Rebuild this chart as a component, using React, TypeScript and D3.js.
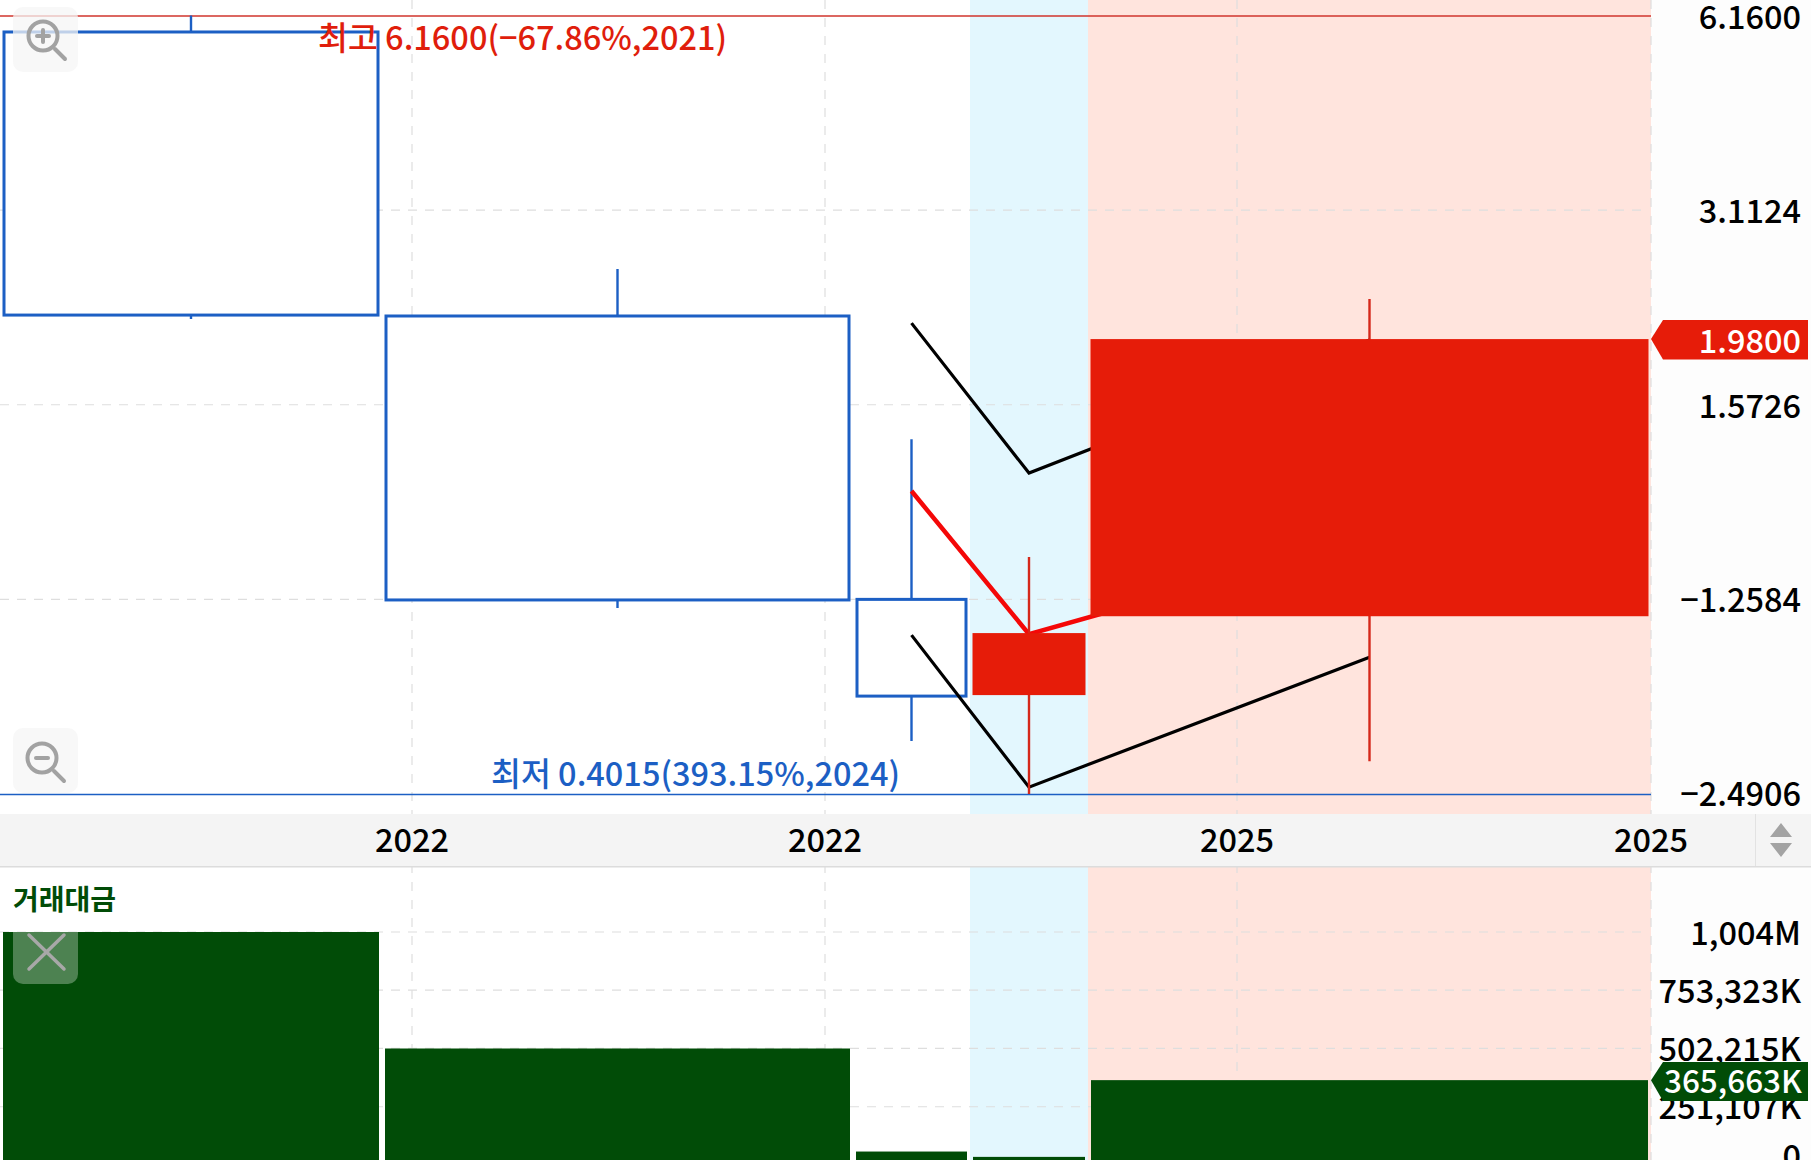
import React from "react";
import * as d3 from "d3";

const spans = [382, 471, 117, 118, 563];
const opens = [5.814, 2.147, 0.7946, 0.568, 0.749];
const closes = [2.154, 0.793, 0.566, 0.706, 1.98];
const highs = [6.16, 2.532, 1.394, 0.922, 2.279];
const lows = [2.124, 0.771, 0.4835, 0.4015, 0.4505];
const volumes = [1004000, 502000, 58000, 35000, 365663];
const maBlackUpper = [2.094, 1.2375, 1.973];
const maRed = [1.162, 0.7033, 0.985];
const maBlackLower = [0.701, 0.4113, 0.6487];
const priceTicks = [6.16, 3.1124, 1.5726, 0.7946, 0.4015];
const priceLabels = ["6.1600", "3.1124", "1.5726", "\u22121.2584", "\u22122.4906"];
const volumeTicks = [1004000, 753323, 502215, 251107, 0];
const volumeLabels = ["1,004M", "753,323K", "502,215K", "251,107K", "0"];
const yearTicks = [412, 825, 1237, 1651];
const yearLabels = ["2022", "2022", "2025", "2025"];

const FONT = '"Noto Sans CJK KR", "Noto Sans", sans-serif';
const BLUE = "#1c5fc4";
const RED = "#e61c09";
const GREEN = "#014c07";
const GRID = "#dedede";

const W = 1811, H = 1160, PLOT_R = 1651;
const total = d3.sum(spans);
const x = d3.scaleLinear().domain([0, total]).range([0, PLOT_R]);
const y = d3.scaleLog().domain([0.4015, 6.16]).range([794, 15.5]);
const v = d3.scaleLinear().domain([0, 1004000]).range([1165, 932]);
const edges = [0, ...d3.cumsum(spans)];
const bands = spans.map((_, i) => ({ l: x(edges[i]), r: x(edges[i + 1]), c: x(edges[i] + spans[i] / 2) }));
const line = d3.line<[number, number]>().x((d) => d[0]).y((d) => d[1]);
const maPath = (vals: number[]) => line(vals.map((d, i) => [bands[i + 2].c, y(d)]))!;
const PAD = 4;
const PAD_UP = 2.5;

function Candle({ i }: { i: number }) {
  const b = bands[i];
  const up = closes[i] >= opens[i];
  const col = up ? RED : BLUE;
  const top = y(Math.max(opens[i], closes[i]));
  const bot = y(Math.min(opens[i], closes[i]));
  return (
    <g>
      <line x1={b.c} x2={b.c} y1={y(highs[i])} y2={y(lows[i])} stroke={up ? "#d5281a" : BLUE} strokeWidth={2.4} />
      {up ? (
        <rect x={b.l + PAD_UP} y={top} width={b.r - b.l - 2 * PAD_UP} height={bot - top} fill={col} />
      ) : (
        <rect x={b.l + PAD} y={top} width={b.r - b.l - 2 * PAD} height={bot - top} fill="#fff" stroke={col} strokeWidth={3} />
      )}
    </g>
  );
}

function Lens({ cx, cy, plus }: { cx: number; cy: number; plus: boolean }) {
  return (
    <g stroke="#a2a2a2" fill="none" strokeWidth={4} strokeLinecap="round">
      <circle cx={cx} cy={cy} r={14.5} />
      <line x1={cx + 12} y1={cy + 13} x2={cx + 22} y2={cy + 23} />
      <line x1={cx - 6} x2={cx + 6} y1={cy} y2={cy} />
      {plus && <line x1={cx} x2={cx} y1={cy - 6} y2={cy + 6} />}
    </g>
  );
}

const tickText = { fontFamily: FONT, fontSize: 32.5, fontWeight: 500, fill: "#000", textAnchor: "end" as const, dominantBaseline: "central" as const };

export default function App() {
  return (
    <svg width={W} height={H} style={{ position: "absolute", left: 0, top: 0, background: "#fff" }}>
      <rect x={PLOT_R} y={0} width={W - PLOT_R} height={H} fill="#fdfdfd" />
      {/* period shading */}
      <rect x={bands[3].l} y={0} width={bands[3].r - bands[3].l} height={H} fill="#e3f7fe" />
      <rect x={bands[4].l} y={0} width={bands[4].r - bands[4].l} height={H} fill="#ffe4dd" />

      {/* grid */}
      {yearTicks.map((t) => (
        <line key={t} x1={t} x2={t} y1={0} y2={H} stroke={GRID} strokeWidth={1.2} strokeDasharray="9 9" />
      ))}
      {priceTicks.slice(1, 4).map((t) => (
        <line key={t} x1={0} x2={PLOT_R - 4} y1={y(t)} y2={y(t)} stroke={GRID} strokeWidth={1.2} strokeDasharray="9 8" />
      ))}
      {volumeTicks.slice(0, 4).map((t) => (
        <line key={t} x1={0} x2={PLOT_R - 4} y1={v(t)} y2={v(t)} stroke={GRID} strokeWidth={1.2} strokeDasharray="9 8" />
      ))}

      {/* high / low reference lines */}
      <line x1={0} x2={PLOT_R} y1={y(6.16) + 0.5} y2={y(6.16) + 0.5} stroke="#d0342c" strokeWidth={1.3} />
      <line x1={0} x2={PLOT_R} y1={y(0.4015) + 0.5} y2={y(0.4015) + 0.5} stroke={BLUE} strokeWidth={1.3} />

      {/* candles and moving averages */}
      {[0, 1, 2].map((i) => <Candle key={i} i={i} />)}
      <path d={maPath(maBlackUpper)} fill="none" stroke="#000" strokeWidth={3.2} />
      <path d={maPath(maBlackLower)} fill="none" stroke="#000" strokeWidth={3.2} />
      <path d={maPath(maRed)} fill="none" stroke="#f40808" strokeWidth={4.5} />
      {[3, 4].map((i) => <Candle key={i} i={i} />)}

      <text x={318} y={35} fontFamily={FONT} fontSize={32.5} fontWeight={500} fill="#e01e0c" dominantBaseline="central">최고 6.1600(−67.86%,2021)</text>
      <text x={491} y={771} fontFamily={FONT} fontSize={32.5} fontWeight={500} fill={BLUE} dominantBaseline="central">최저 0.4015(393.15%,2024)</text>

      {/* price axis */}
      {priceTicks.map((t, i) => (
        <text key={t} x={1801} y={Math.min(y(t) - 1.5, 791)} {...tickText}>{priceLabels[i]}</text>
      ))}
      <path d={`M${PLOT_R},${y(1.98)}L1663,320H1808V359.5H1663Z`} fill={RED} />
      <text x={1801} y={y(1.98) - 1} {...tickText} fill="#fff">1.9800</text>

      {/* time axis band */}
      <rect x={0} y={814} width={W} height={52} fill="#f4f4f4" />
      <rect x={0} y={866} width={W} height={1.5} fill="#dcdcdc" />
      <rect x={1755} y={814} width={1} height={52} fill="#e2e2e2" />
      <path d="M1781,823L1792,837H1770Z M1781,857L1792,843H1770Z" fill="#a3a3a3" />
      {yearTicks.map((t, i) => (
        <text key={i} x={t} y={837.5} fontFamily={FONT} fontSize={32.5} fontWeight={500} fill="#000" textAnchor="middle" dominantBaseline="central">{yearLabels[i]}</text>
      ))}

      {/* volume pane */}
      <text x={13} y={898} fontFamily={FONT} fontSize={28} fontWeight={700} fill={GREEN} dominantBaseline="central">거래대금</text>
      {volumes.map((d, i) => (
        <rect key={i} x={bands[i].l + 3} y={v(d)} width={bands[i].r - bands[i].l - 6} height={Math.max(0, 1165 - v(d))} fill={GREEN} />
      ))}
      {volumeTicks.map((t, i) => (
        <text key={t} x={1801} y={i === 4 ? 1153 : v(t) - 2} {...tickText}>{volumeLabels[i]}</text>
      ))}
      <path d={`M${PLOT_R},${v(365663)}L1663,1062H1808V1101H1663Z`} fill={GREEN} />
      <text x={1802} y={v(365663) - 1} {...tickText} fontSize={31.5} fill="#fff">365,663K</text>

      {/* zoom / close buttons */}
      <rect x={13} y={7} width={65} height={65} rx={10} fill="#f6f6f6" fillOpacity={0.75} />
      <Lens cx={43} cy={36} plus />
      <rect x={13} y={728} width={65} height={65} rx={10} fill="#f6f6f6" fillOpacity={0.75} />
      <Lens cx={42} cy={758} plus={false} />
      <rect x={13} y={919} width={65} height={65} rx={10} fill="#fff" fillOpacity={0.3} />
      <path d="M29,935L64,969M64,935L29,969" stroke="#a8a8a8" strokeWidth={3.5} strokeLinecap="round" />
    </svg>
  );
}
